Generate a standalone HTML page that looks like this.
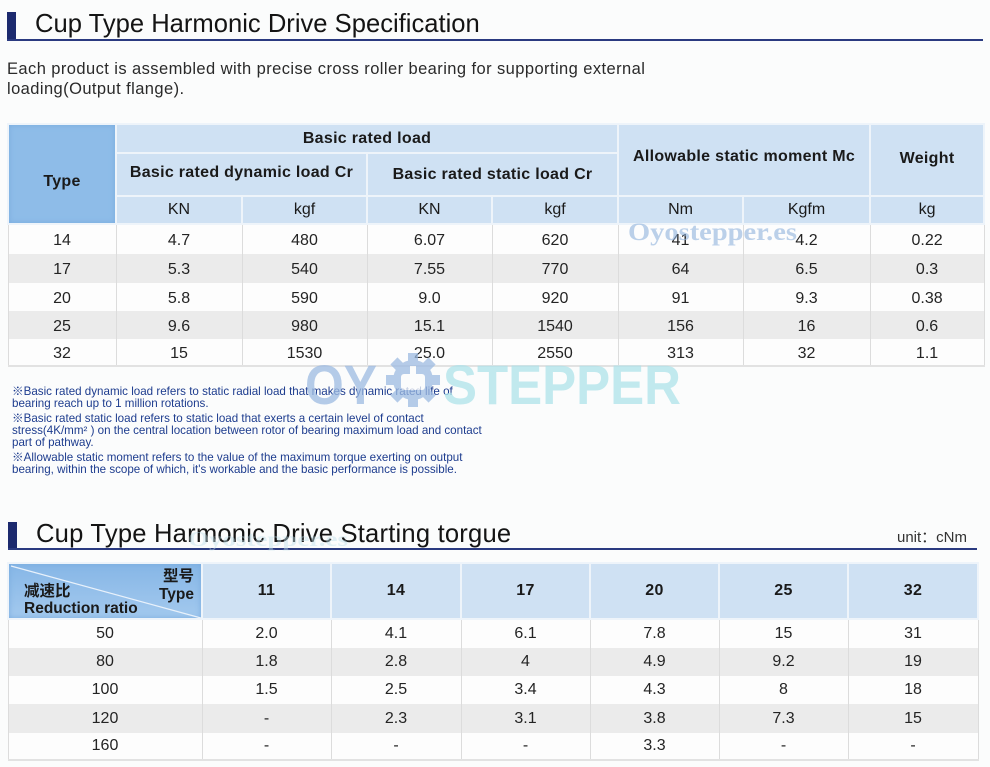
<!DOCTYPE html>
<html><head><meta charset="utf-8">
<style>
*{margin:0;padding:0;box-sizing:border-box}
html,body{width:990px;height:767px;overflow:hidden;background:#fbfcfc;font-family:"Liberation Sans","Noto Sans CJK SC",sans-serif;color:#222}
.bar{position:absolute;background:#1c2a6e}
.uline{position:absolute;height:2px;background:#2a3a80}
.title{position:absolute;font-size:25.6px;color:#141414;white-space:nowrap;line-height:1}
.para{position:absolute;left:7px;top:59px;font-size:16.5px;letter-spacing:0.42px;line-height:20px;color:#2a2a2a;width:760px}
table{position:absolute;border-collapse:collapse;table-layout:fixed}
td{text-align:center;vertical-align:middle;padding:0;white-space:nowrap}
.h td{background:#cfe1f3;font-weight:bold;font-size:16px;letter-spacing:0.3px;color:#1a1a1a;border:2px solid #eef4fa}
.h td.type{background:#8ebce8;box-shadow:inset 0 0 6px #79acdf}
.b td{font-size:16px;color:#242424;border-left:1px solid #dcdcdc;border-right:1px solid #dcdcdc}
.b tr:nth-child(even) td{background:#ebebeb}
.b tr:nth-child(odd) td{background:#fdfdfd}
.b tr:last-child td{border-bottom:2px solid #e2e2e2}
.b1 td{padding-top:3px}
.notes{position:absolute;left:12px;top:386px;font-size:11.6px;line-height:12px;color:#1d3c8e;width:530px}
.notes p{margin-bottom:3px}
</style></head><body>

<!-- Section 1 -->
<div class="bar" style="left:7px;top:12px;width:9px;height:28px"></div>
<div class="uline" style="left:7px;top:39px;width:976px"></div>
<div class="title" style="left:35px;top:12px">Cup Type Harmonic Drive Specification</div>

<div class="para">Each product is assembled with precise cross roller bearing for supporting external<br>loading(Output flange).</div>

<table style="left:7px;top:123px;width:976px">
<colgroup><col style="width:108px"><col style="width:126px"><col style="width:125px"><col style="width:125px"><col style="width:126px"><col style="width:125px"><col style="width:127px"><col style="width:114px"></colgroup>
<tbody class="h">
<tr style="height:29px"><td class="type" rowspan="3" style="padding-top:16px">Type</td><td colspan="4">Basic rated load</td><td colspan="2" rowspan="2" style="padding-bottom:6px">Allowable static moment Mc</td><td rowspan="2" style="padding-bottom:2px">Weight</td></tr>
<tr style="height:43px"><td colspan="2" style="padding-bottom:3px">Basic rated dynamic load Cr</td><td colspan="2">Basic rated static load Cr</td></tr>
<tr style="height:28px;font-weight:normal"><td style="font-weight:normal;letter-spacing:0">KN</td><td style="font-weight:normal;letter-spacing:0">kgf</td><td style="font-weight:normal;letter-spacing:0">KN</td><td style="font-weight:normal;letter-spacing:0">kgf</td><td style="font-weight:normal;letter-spacing:0">Nm</td><td style="font-weight:normal;letter-spacing:0">Kgfm</td><td style="font-weight:normal;letter-spacing:0">kg</td></tr>
</tbody>
<tbody class="b b1">
<tr style="height:30px"><td>14</td><td>4.7</td><td>480</td><td>6.07</td><td>620</td><td>41</td><td>4.2</td><td>0.22</td></tr>
<tr style="height:29px"><td>17</td><td>5.3</td><td>540</td><td>7.55</td><td>770</td><td>64</td><td>6.5</td><td>0.3</td></tr>
<tr style="height:28px"><td>20</td><td>5.8</td><td>590</td><td>9.0</td><td>920</td><td>91</td><td>9.3</td><td>0.38</td></tr>
<tr style="height:28px"><td>25</td><td>9.6</td><td>980</td><td>15.1</td><td>1540</td><td>156</td><td>16</td><td>0.6</td></tr>
<tr style="height:27px"><td>32</td><td>15</td><td>1530</td><td>25.0</td><td>2550</td><td>313</td><td>32</td><td>1.1</td></tr>
</tbody>
</table>

<!-- watermark small -->
<svg style="position:absolute;left:0;top:0" width="990" height="767">
<text x="628" y="240" font-family="Liberation Serif" font-weight="bold" font-size="25" fill="#8fb2dc" fill-opacity="0.6" textLength="169" lengthAdjust="spacingAndGlyphs">Oyostepper.es</text>
</svg>

<div class="notes">
<p>※Basic rated dynamic load refers to static radial load that makes dynamic rated life of<br>bearing reach up to 1 million rotations.</p>
<p>※Basic rated static load refers to static load that exerts a certain level of contact<br>stress(4K/mm² ) on the central location between rotor of bearing maximum load and contact<br>part of pathway.</p>
<p>※Allowable static moment refers to the value of the maximum torque exerting on output<br>bearing, within the scope of which, it's workable and the basic performance is possible.</p>
</div>

<!-- big watermark -->
<svg style="position:absolute;left:0;top:0" width="990" height="767">
<g opacity="0.75">
<text x="305" y="404" font-family="Liberation Sans" font-weight="bold" font-size="56" fill="#9dbbe2" textLength="72" lengthAdjust="spacingAndGlyphs">OY</text>
<g transform="translate(413,380)" fill="#9dbbe2">
<circle r="20"/>
<rect x="-5" y="-27" width="10" height="54"/>
<rect x="-27" y="-5" width="54" height="10"/>
<rect x="-5" y="-27" width="10" height="54" transform="rotate(45)"/>
<rect x="-5" y="-27" width="10" height="54" transform="rotate(-45)"/>
<rect x="-12" y="-6" width="24" height="16" rx="3" fill="#fbfcfc"/>
<rect x="-3" y="-14" width="6" height="12" fill="#fbfcfc"/>
</g>
<text x="443" y="404" font-family="Liberation Sans" font-weight="bold" font-size="56" fill="#aee3ea" textLength="238" lengthAdjust="spacingAndGlyphs">STEPPER</text>
</g>
</svg>

<!-- Section 2 -->
<div class="bar" style="left:8px;top:522px;width:9px;height:27px"></div>
<div class="uline" style="left:8px;top:548px;width:969px"></div>
<div class="title" style="left:36px;top:522px;letter-spacing:0.2px">Cup Type Harmonic Drive Starting torgue</div>
<div style="position:absolute;left:897px;top:526px;font-size:15px;color:#333;white-space:nowrap">unit：cNm</div>
<svg style="position:absolute;left:0;top:0" width="990" height="767">
<text x="188" y="546" font-family="Liberation Serif" font-weight="bold" font-size="21" fill="#bfe0ea" fill-opacity="0.45" textLength="160" lengthAdjust="spacingAndGlyphs">Oyostepper.es</text>
</svg>

<table style="left:7px;top:562px;width:970px">
<colgroup><col style="width:194px"><col style="width:129px"><col style="width:130px"><col style="width:129px"><col style="width:129px"><col style="width:129px"><col style="width:130px"></colgroup>
<tbody class="h">
<tr style="height:56px">
<td class="type" style="position:relative;background:linear-gradient(180deg,#86b6e6,#a3c9ee);letter-spacing:0">
<svg style="position:absolute;left:0;top:0" width="194" height="56"><line x1="2" y1="2" x2="192" y2="54" stroke="#e8f1fb" stroke-width="1.2"/></svg>
<div style="position:absolute;right:7px;top:4px;font-size:15.5px;line-height:18px;text-align:right;font-family:'Liberation Sans','Noto Sans CJK SC',sans-serif">型号<br>Type</div>
<div style="position:absolute;left:15px;top:19px;font-size:15.5px;line-height:17px;text-align:left;font-family:'Liberation Sans','Noto Sans CJK SC',sans-serif">减速比<br>Reduction ratio</div>
</td>
<td>11</td><td>14</td><td>17</td><td>20</td><td>25</td><td>32</td></tr>
</tbody>
<tbody class="b">
<tr style="height:29px"><td>50</td><td>2.0</td><td>4.1</td><td>6.1</td><td>7.8</td><td>15</td><td>31</td></tr>
<tr style="height:28px"><td>80</td><td>1.8</td><td>2.8</td><td>4</td><td>4.9</td><td>9.2</td><td>19</td></tr>
<tr style="height:28px"><td>100</td><td>1.5</td><td>2.5</td><td>3.4</td><td>4.3</td><td>8</td><td>18</td></tr>
<tr style="height:29px"><td>120</td><td>-</td><td>2.3</td><td>3.1</td><td>3.8</td><td>7.3</td><td>15</td></tr>
<tr style="height:27px"><td>160</td><td>-</td><td>-</td><td>-</td><td>3.3</td><td>-</td><td>-</td></tr>
</tbody>
</table>

</body></html>
